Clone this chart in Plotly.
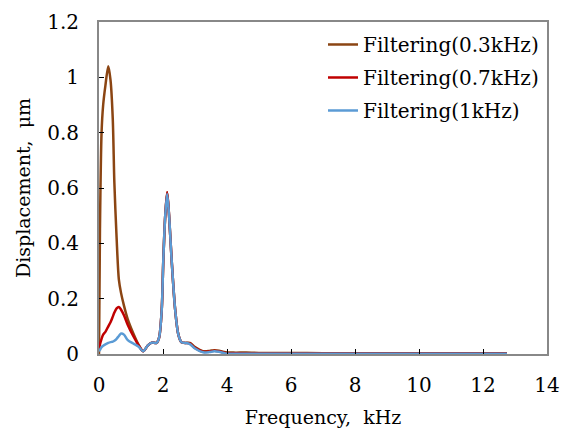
import plotly.graph_objects as go

# Frequency grid (kHz) shared by the three filtered spectra
freq = [0.0, 0.03, 0.08, 0.13, 0.2, 0.29, 0.36, 0.43, 0.48, 0.55, 0.62, 0.69, 0.78,
        0.9, 1.07, 1.23, 1.38, 1.52, 1.65, 1.8, 1.88, 1.96, 2.01, 2.07, 2.13, 2.19,
        2.27, 2.38, 2.48, 2.58, 2.7, 2.84, 3.0, 3.25, 3.45, 3.6, 3.75, 3.95, 4.2,
        4.6, 5.0, 6.0, 7.0, 8.0, 9.0, 10.0, 11.0, 12.0, 12.75]

# Displacement amplitude (um)
disp_03k = [0.0, 0.45, 0.8, 0.9, 0.97, 1.04, 0.99, 0.85, 0.62, 0.42, 0.27, 0.22, 0.175,
            0.125, 0.075, 0.035, 0.01, 0.03, 0.041, 0.04, 0.06, 0.16, 0.34, 0.5, 0.585, 0.5,
            0.34, 0.16, 0.07, 0.042, 0.04, 0.04, 0.025, 0.01, 0.011, 0.014, 0.012, 0.006, 0.005,
            0.005, 0.004, 0.004, 0.003, 0.003, 0.003, 0.003, 0.003, 0.003, 0.003]
disp_07k = [0.02, 0.035, 0.055, 0.07, 0.08, 0.1, 0.115, 0.135, 0.15, 0.165, 0.17, 0.16, 0.14,
            0.105, 0.065, 0.033, 0.01, 0.03, 0.041, 0.04, 0.06, 0.16, 0.34, 0.5, 0.585, 0.5,
            0.34, 0.16, 0.07, 0.042, 0.04, 0.038, 0.022, 0.008, 0.009, 0.012, 0.01, 0.004, 0.003,
            0.002, 0.002, 0.002, 0.002, 0.002, 0.002, 0.002, 0.002, 0.002, 0.002]
disp_1k = [0.01, 0.015, 0.025, 0.03, 0.035, 0.04, 0.043, 0.045, 0.048, 0.055, 0.065, 0.074, 0.07,
           0.05, 0.038, 0.027, 0.01, 0.03, 0.041, 0.04, 0.06, 0.16, 0.34, 0.5, 0.578, 0.5,
           0.34, 0.16, 0.07, 0.042, 0.04, 0.036, 0.02, 0.006, 0.007, 0.01, 0.008, 0.002, 0.001,
           0.001, 0.001, 0.001, 0.001, 0.001, 0.001, 0.001, 0.001, 0.001, 0.001]

series = [
    ("Filtering(0.3kHz)", disp_03k, "#8B4513"),
    ("Filtering(0.7kHz)", disp_07k, "#C00000"),
    ("Filtering(1kHz)", disp_1k, "#5B9BD5"),
]

FONT = "DejaVu Serif"

fig = go.Figure()
for name, vals, color in series:
    fig.add_trace(go.Scatter(
        x=freq, y=vals, name=name, mode="lines", legendgroup=name,
        line=dict(color=color, width=2.5, shape="spline", smoothing=0.8),
    ))

fig.update_layout(
    width=563, height=429,
    margin=dict(l=99, r=16, t=22, b=75, autoexpand=False),
    paper_bgcolor="white", plot_bgcolor="white",
    font=dict(family=FONT, size=20, color="#000000"),
    showlegend=True,
    legend=dict(
        x=0.5, y=0.991, xanchor="left", yanchor="top",
        bgcolor="rgba(0,0,0,0)", borderwidth=0,
        font=dict(family=FONT, size=20, color="#000000"),
        tracegroupgap=4, itemwidth=30,
    ),
)

fig.update_xaxes(
    range=[0, 14], dtick=2, tick0=0,
    showgrid=False, zeroline=False, automargin=False,
    showline=True, linecolor="#888888", linewidth=2, mirror=True,
    ticks="inside", ticklen=5, tickwidth=1, tickcolor="#000000",
    ticklabelstandoff=12,
    title=dict(text="Frequency,  kHz", font=dict(family=FONT, size=19), standoff=15),
)
fig.update_yaxes(
    range=[0, 1.2], dtick=0.2, tick0=0,
    showgrid=False, zeroline=False, automargin=False,
    showline=True, linecolor="#888888", linewidth=2, mirror=True,
    ticks="inside", ticklen=5, tickwidth=1, tickcolor="#000000",
    ticklabelstandoff=14,
    title=dict(text="Displacement,  μm", font=dict(family=FONT, size=19), standoff=12),
)

fig.write_html("out.html")
